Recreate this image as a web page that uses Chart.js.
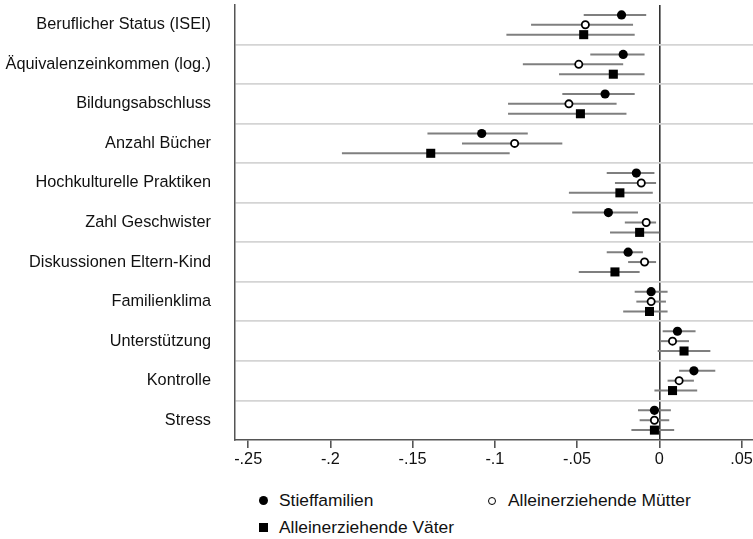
<!DOCTYPE html>
<html>
<head>
<meta charset="utf-8">
<script src="https://cdn.jsdelivr.net/npm/chart.js@4.4.0/dist/chart.umd.min.js"></script>
<style>
html, body { margin: 0; padding: 0; background: #fff; overflow: hidden; width: 753px; height: 539px; }
#wrap { position: absolute; left: 0; top: 0; width: 800px; height: 480px; }
.lg { position: absolute; font-family: "Liberation Sans", Arial, sans-serif; font-size: 17.4px; color: #111; line-height: 20px; white-space: nowrap; }
.mk { position: absolute; box-sizing: border-box; }
</style>
</head>
<body>
<div id="wrap"><canvas id="myChart" width="800" height="480"></canvas></div>

<div class="mk" style="left:259px;top:496px;width:9px;height:9px;border-radius:50%;background:#000;"></div>
<div class="lg" style="left:279px;top:490px;">Stieffamilien</div>
<div class="mk" style="left:488px;top:497px;width:8px;height:8px;border-radius:50%;border:1.6px solid #000;"></div>
<div class="lg" style="left:508px;top:490px;">Alleinerziehende Mütter</div>
<div class="mk" style="left:259px;top:523px;width:9px;height:9px;background:#000;"></div>
<div class="lg" style="left:279px;top:517px;">Alleinerziehende Väter</div>

<script>
// categories, top to bottom
const categories = [
    'Beruflicher Status (ISEI)',
    'Äquivalenzeinkommen (log.)',
    'Bildungsabschluss',
    'Anzahl Bücher',
    'Hochkulturelle Praktiken',
    'Zahl Geschwister',
    'Diskussionen Eltern-Kind',
    'Familienklima',
    'Unterstützung',
    'Kontrolle',
    'Stress'
];

// Stieffamilien
const stiefCoef = [-0.023, -0.022, -0.033, -0.108, -0.014, -0.031, -0.019, -0.005, 0.011, 0.021, -0.003];
const stiefLo   = [-0.046, -0.042, -0.059, -0.141, -0.032, -0.053, -0.032, -0.015, 0.002, 0.012, -0.013];
const stiefHi   = [-0.008, -0.009, -0.015, -0.080, -0.003, -0.013, -0.010, 0.005, 0.022, 0.034, 0.007];

// Alleinerziehende Mütter
const muetterCoef = [-0.045, -0.049, -0.055, -0.088, -0.011, -0.008, -0.009, -0.005, 0.008, 0.012, -0.003];
const muetterLo   = [-0.078, -0.083, -0.092, -0.120, -0.027, -0.021, -0.019, -0.014, 0.001, 0.005, -0.012];
const muetterHi   = [-0.016, -0.022, -0.026, -0.059, -0.002, -0.002, -0.002, 0.004, 0.018, 0.021, 0.006];

// Alleinerziehende Väter
const vaeterCoef = [-0.046, -0.028, -0.048, -0.139, -0.024, -0.012, -0.027, -0.006, 0.015, 0.008, -0.003];
const vaeterLo   = [-0.093, -0.061, -0.092, -0.193, -0.055, -0.030, -0.049, -0.022, -0.001, -0.003, -0.017];
const vaeterHi   = [-0.015, -0.009, -0.020, -0.091, -0.004, 0.000, -0.012, 0.005, 0.031, 0.023, 0.009];

const xTicks = [-0.25, -0.2, -0.15, -0.1, -0.05, 0, 0.05];
const xTickLabels = ['-.25', '-.2', '-.15', '-.1', '-.05', '0', '.05'];

function buildPoints(coef, lo, hi, shift) {
    return coef.map((v, i) => ({ x: v, y: i + shift, lo: lo[i], hi: hi[i] }));
}

// draws the confidence intervals behind the markers
const ciPlugin = {
    id: 'ciLines',
    beforeDatasetsDraw(chart) {
        const ctx = chart.ctx;
        const x = chart.scales.x;
        const y = chart.scales.y;
        ctx.save();
        ctx.strokeStyle = '#7f7f7f';
        ctx.lineWidth = 2;
        chart.data.datasets.forEach(function (ds) {
            ds.data.forEach(function (p) {
                const py = y.getPixelForValue(p.y);
                ctx.beginPath();
                ctx.moveTo(x.getPixelForValue(p.lo), py);
                ctx.lineTo(x.getPixelForValue(p.hi), py);
                ctx.stroke();
            });
        });
        ctx.restore();
    }
};

const ctx = document.getElementById('myChart').getContext('2d');
const font = { family: '"Liberation Sans", Arial, sans-serif', size: 16.3 };

const myChart = new Chart(ctx, {
    type: 'scatter',
    data: {
        datasets: [
            {
                label: 'Stieffamilien',
                data: buildPoints(stiefCoef, stiefLo, stiefHi, -0.25),
                pointStyle: 'circle',
                pointRadius: 4.6,
                backgroundColor: '#000',
                borderColor: '#000',
                borderWidth: 0
            },
            {
                label: 'Alleinerziehende Mütter',
                data: buildPoints(muetterCoef, muetterLo, muetterHi, 0),
                pointStyle: 'circle',
                pointRadius: 3.6,
                backgroundColor: '#fff',
                borderColor: '#000',
                borderWidth: 1.8
            },
            {
                label: 'Alleinerziehende Väter',
                data: buildPoints(vaeterCoef, vaeterLo, vaeterHi, 0.25),
                pointStyle: 'rect',
                pointRadius: 6.4,
                backgroundColor: '#000',
                borderColor: '#000',
                borderWidth: 0
            }
        ]
    },
    options: {
        responsive: false,
        animation: false,
        layout: { autoPadding: false, padding: { top: 5, right: 0, bottom: 0, left: 0 } },
        plugins: {
            legend: { display: false },
            tooltip: { enabled: false }
        },
        scales: {
            x: {
                type: 'linear',
                min: -0.258,
                max: 0.0855,
                afterBuildTicks: function (scale) {
                    scale.ticks = xTicks.map(v => ({ value: v }));
                },
                afterFit: function (scale) {
                    scale.height = 40;
                    scale.paddingLeft = 0;
                    scale.paddingRight = 0;
                },
                ticks: {
                    font: font,
                    color: '#111',
                    padding: 2,
                    maxRotation: 0,
                    callback: function (value) {
                        const i = xTicks.indexOf(value);
                        return i >= 0 ? xTickLabels[i] : '';
                    }
                },
                grid: {
                    color: function (c) {
                        return c.tick && c.tick.value === 0 ? '#333' : 'rgba(0,0,0,0)';
                    },
                    lineWidth: 1.6,
                    tickColor: '#555',
                    tickLength: 8
                },
                border: { display: true, color: '#555', width: 1.5 }
            },
            y: {
                type: 'linear',
                reverse: true,
                min: -0.5,
                max: categories.length - 0.5,
                afterBuildTicks: function (scale) {
                    const t = [];
                    for (let k = -1; k <= categories.length * 2 - 1; k++) {
                        t.push({ value: k / 2 });
                    }
                    scale.ticks = t;
                },
                afterFit: function (scale) {
                    scale.width = 235;
                    scale.paddingTop = 0;
                    scale.paddingBottom = 0;
                },
                ticks: {
                    font: font,
                    color: '#111',
                    padding: 24,
                    autoSkip: false,
                    callback: function (value) {
                        return Number.isInteger(value) && categories[value] ? categories[value] : '';
                    }
                },
                grid: {
                    drawTicks: false,
                    color: function (c) {
                        const v = c.tick ? c.tick.value : 0;
                        if (Number.isInteger(v) || v <= -0.5 || v >= categories.length - 0.5) {
                            return 'rgba(0,0,0,0)';
                        }
                        return '#d4d4d4';
                    },
                    lineWidth: 1.8
                },
                border: { display: true, color: '#555', width: 1.5 }
            }
        }
    },
    plugins: [ciPlugin]
});
</script>
</body>
</html>
